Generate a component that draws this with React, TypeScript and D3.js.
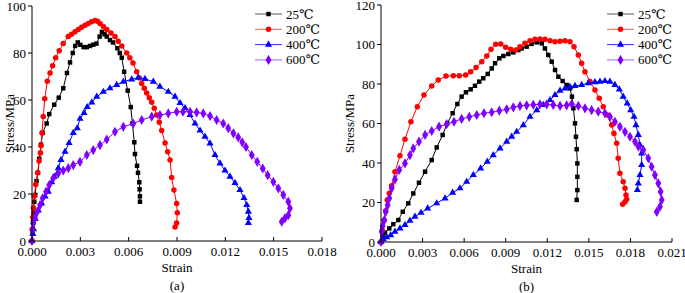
import React from "react";
import * as d3 from "d3";

type P = [number, number];

// Panel (a) data: [strain, stress MPa]
const a25: P[] = [[0,0],[0.00003,4],[0.00006,8],[0.0001,12],[0.00014,16.7],[0.0002,19.6],[0.00028,25.5],[0.00037,29],[0.00045,35],[0.00056,41],[0.00066,46],[0.00091,50],[0.00107,54],[0.00138,58],[0.00166,61],[0.00194,65],[0.00217,71.5],[0.00236,76],[0.00253,80],[0.00268,83],[0.00284,84.5],[0.003,83.5],[0.0032,82.5],[0.0034,82.5],[0.0036,83],[0.0038,83.5],[0.004,84],[0.0042,87],[0.00434,89],[0.0045,88],[0.00464,87],[0.00484,85.5],[0.00503,84.5],[0.0053,82],[0.00545,80],[0.00557,78],[0.00572,72],[0.00594,64],[0.00613,57],[0.00623,50],[0.00635,42],[0.00639,37],[0.00652,32],[0.00658,29],[0.00666,25],[0.00668,22],[0.0067,19],[0.0067,16.7]];
const a200: P[] = [[0,0],[0.00002,5],[0.00005,10],[0.00009,14],[0.00014,19],[0.00023,24],[0.00035,29],[0.00044,34],[0.00052,37.5],[0.00056,40.5],[0.00062,46],[0.0007,53],[0.00079,60.5],[0.00095,68],[0.00112,71.5],[0.00128,74.6],[0.00147,78],[0.00169,81],[0.00194,84],[0.00225,87],[0.00246,88],[0.00267,89],[0.00288,90],[0.00308,91],[0.00329,91.8],[0.00349,92.6],[0.0037,93.3],[0.00391,93.8],[0.00406,93.5],[0.00422,92.6],[0.00443,91.3],[0.00464,90],[0.0049,88.5],[0.00515,87],[0.00535,85],[0.00557,83],[0.00588,80],[0.00607,78],[0.00627,75.7],[0.0065,72],[0.00665,69.5],[0.00681,67],[0.00697,65],[0.00712,63],[0.00728,61],[0.00743,59],[0.00759,56.5],[0.00774,53.6],[0.0079,50.5],[0.00805,47],[0.00826,41.7],[0.00842,38],[0.00857,34.5],[0.00867,27],[0.00881,21.7],[0.00898,16],[0.00902,12],[0.00898,7.7],[0.00888,6]];
const a400: P[] = [[0,0],[0.00005,3],[0.0001,5],[0.00019,9.4],[0.00039,13],[0.0006,16],[0.00081,19],[0.00101,21],[0.00122,25],[0.00138,27.4],[0.00163,31],[0.0018,34.5],[0.00205,38],[0.0023,41.7],[0.00256,46],[0.00281,48],[0.00298,52],[0.00323,54.5],[0.00343,57],[0.00371,59],[0.00402,61.4],[0.00443,63.5],[0.00484,65],[0.00526,66.4],[0.00567,67.8],[0.00619,68.8],[0.0066,69.5],[0.00701,69],[0.00753,67.8],[0.00794,65.7],[0.00846,63.5],[0.00888,61.4],[0.00919,58.7],[0.0095,56.6],[0.00981,53.6],[0.01012,50],[0.01043,47],[0.01074,44.4],[0.01105,41.5],[0.01136,36.6],[0.01167,33],[0.01198,30],[0.01229,27.4],[0.0126,24.7],[0.01291,21.7],[0.01316,18.3],[0.01333,15.3],[0.01343,12.5],[0.01347,9.8],[0.01343,7.7]];
const a600: P[] = [[0,0],[0.00002,4.7],[0.00008,7.5],[0.00019,9.8],[0.00033,12.5],[0.0005,15.3],[0.00066,18.2],[0.00087,21],[0.00107,23.8],[0.00132,26.7],[0.00163,28.8],[0.00194,30],[0.00225,31],[0.00256,32.3],[0.00298,33.7],[0.0034,36.6],[0.0038,38.7],[0.00422,40.8],[0.00464,43.2],[0.00515,46.5],[0.00567,48.6],[0.00629,50],[0.00681,51.5],[0.00743,52.9],[0.00794,53.6],[0.00846,54.3],[0.00898,55],[0.00937,55],[0.00981,55],[0.01022,54.7],[0.01063,54.3],[0.01105,53.2],[0.01146,51.5],[0.01187,50],[0.01218,48],[0.0125,45.8],[0.0128,44.1],[0.01305,42],[0.01328,40],[0.01364,36.6],[0.01398,33.7],[0.01432,30.9],[0.01463,28],[0.01498,25.2],[0.01529,22.4],[0.0156,19.6],[0.01591,16.7],[0.01601,13.9],[0.01591,11],[0.0157,9.7],[0.0155,8.2]];

// Panel (b) data
const b25: P[] = [[0,0],[0.00012,2.7],[0.00029,4.7],[0.0006,6.9],[0.00089,9],[0.00125,11.1],[0.00157,15.3],[0.00197,19.6],[0.00233,24.6],[0.00274,30],[0.00318,35.6],[0.00366,41.5],[0.00402,47.9],[0.00445,54.2],[0.00478,60.1],[0.00517,65.2],[0.00551,69.9],[0.00582,73.6],[0.00613,75.8],[0.00647,77.3],[0.00678,79.1],[0.00709,81.2],[0.00738,82.9],[0.0077,85.1],[0.00799,87.9],[0.00823,90.5],[0.00854,93],[0.00883,94.2],[0.00919,95.2],[0.00955,96],[0.00991,97.2],[0.01015,98],[0.01051,98.9],[0.01087,100.3],[0.01124,101.1],[0.0116,100.6],[0.01183,98],[0.01207,94.7],[0.01232,91.3],[0.01256,87.1],[0.0128,83.7],[0.01311,81.5],[0.0134,79.5],[0.01364,77.8],[0.01378,73.6],[0.01388,67.7],[0.014,60.1],[0.01407,53.3],[0.01412,47],[0.01417,39.8],[0.01417,33],[0.01417,26.3],[0.01412,21.3]];
const b200: P[] = [[0,0],[0.00009,6],[0.00022,11],[0.00034,15.8],[0.00045,21.3],[0.0006,24.7],[0.00077,28.5],[0.00101,35.6],[0.00137,43.7],[0.00173,52],[0.00216,60.9],[0.00262,68.5],[0.0031,74.4],[0.00366,79],[0.00413,82],[0.00469,84],[0.00522,84.2],[0.00565,84.2],[0.00611,84.6],[0.00647,86.2],[0.00686,88.3],[0.00727,91.3],[0.00763,94.2],[0.00794,97.6],[0.00828,100.1],[0.00864,100.3],[0.009,98.6],[0.00936,97.6],[0.00972,97.2],[0.01003,98.9],[0.01039,100.6],[0.01075,101.9],[0.01111,102.6],[0.01147,102.8],[0.01183,102.6],[0.0122,101.9],[0.01256,101.4],[0.01292,101.6],[0.01328,101.9],[0.01364,101.4],[0.01393,98.9],[0.01424,94.7],[0.01448,90.5],[0.01472,86.2],[0.01508,81.2],[0.01544,77],[0.01575,72.8],[0.01604,68.5],[0.01633,64.3],[0.01665,59.2],[0.01681,55],[0.01701,50],[0.01712,42.4],[0.01724,34.8],[0.01748,30.5],[0.01761,27.2],[0.01768,23.8],[0.01773,21.6],[0.01761,20.4],[0.01744,19.1]];
const b400: P[] = [[0,0],[0.00017,1.4],[0.00041,2.4],[0.0007,3.5],[0.00101,5.2],[0.00137,6.9],[0.00173,8.6],[0.00209,10.8],[0.00245,12.8],[0.00289,14.8],[0.00337,17],[0.00402,19.6],[0.00462,22.1],[0.00517,25],[0.0057,27.2],[0.00618,30.5],[0.00666,33.9],[0.00719,37.3],[0.00767,40.7],[0.0081,44],[0.00859,47.4],[0.00907,50.8],[0.00943,53.3],[0.00979,55.8],[0.01027,59.2],[0.01075,63.4],[0.01124,66.8],[0.01171,69.4],[0.0122,71.9],[0.01256,74.4],[0.01292,76.6],[0.01328,77.8],[0.01364,78.6],[0.014,79],[0.01448,79.5],[0.01496,80.4],[0.01544,80.9],[0.0158,81.2],[0.01616,81.5],[0.01652,81.2],[0.01688,79.5],[0.0172,77.3],[0.01748,73.6],[0.01777,70.2],[0.01802,66.8],[0.01826,63.4],[0.0184,59.2],[0.01857,54.2],[0.01869,49.1],[0.01881,44.9],[0.01881,39],[0.01869,33.9],[0.01857,29.7],[0.0185,26.3]];
const b600: P[] = [[0,0],[0.00005,5.2],[0.00012,8.1],[0.00024,11.1],[0.00034,15.3],[0.00048,18.7],[0.0006,22.1],[0.00077,27.2],[0.00101,31.7],[0.00132,36.5],[0.00173,39.8],[0.00209,44],[0.00233,47.4],[0.00274,50.8],[0.00318,54.2],[0.00366,56.2],[0.00419,58.4],[0.00474,59.7],[0.00527,60.9],[0.00582,62.3],[0.00637,63.4],[0.00691,64.3],[0.00743,65.2],[0.00799,65.7],[0.00854,66.5],[0.00907,67.2],[0.00955,68.2],[0.01003,68.9],[0.01051,69.2],[0.01099,69.5],[0.01147,69.7],[0.01196,69.7],[0.01243,69.4],[0.01292,68.9],[0.0134,69.2],[0.01376,69.9],[0.01424,68.9],[0.01472,67.7],[0.0152,66.8],[0.01568,66],[0.01616,65.2],[0.01652,63.4],[0.01688,60.9],[0.01724,58.4],[0.01761,55.8],[0.01797,53.3],[0.01833,50.8],[0.01857,48.3],[0.01893,46.6],[0.01929,42.4],[0.01953,38.1],[0.01977,33.9],[0.02001,29.7],[0.02018,25.5],[0.02026,21.3],[0.02013,17.9],[0.0199,15.3]];

const seriesNames = ["25℃", "200℃", "400℃", "600℃"];
const colors = ["#000000", "#ff0000", "#0000ff", "#8000ff"];
const legendLineColors = ["#555555", "#ff5555", "#3333ff", "#a060ff"];
const symbols = [d3.symbolSquare, d3.symbolCircle, d3.symbolTriangle, d3.symbolDiamond];
const symbolSizes = [20, 24, 22, 30];

const xTicksA = [0, 0.003, 0.006, 0.009, 0.012, 0.015, 0.018];
const yTicksA = [0, 20, 40, 60, 80, 100];
const xTicksB = [0, 0.003, 0.006, 0.009, 0.012, 0.015, 0.018, 0.021];
const yTicksB = [0, 20, 40, 60, 80, 100, 120];

const FONT = "Liberation Serif, DejaVu Serif, serif";

interface PanelProps {
  data: P[][];
  xTicks: number[];
  yTicks: number[];
  x0: number; x1: number; y0: number; y1: number;
  label: string;
  yLabelX: number;
  legendX: number;
}

function Panel({ data, xTicks, yTicks, x0, x1, y0, y1, label, yLabelX, legendX }: PanelProps) {
  const x = d3.scaleLinear().domain([0, xTicks[xTicks.length - 1]]).range([x0, x1]);
  const y = d3.scaleLinear().domain([0, yTicks[yTicks.length - 1]]).range([y0, y1]);
  const line = d3.line<P>().x(d => x(d[0])).y(d => y(d[1]));
  const fs = 13;
  const ts = { fontFamily: FONT, fontSize: fs };
  return (
    <g>
      {data.map((s, i) => (
        <g key={i}>
          <path d={line(s) || ""} fill="none" stroke={colors[i]} strokeWidth={1} />
          {s.map((p, j) => (
            <path key={j} transform={`translate(${x(p[0])},${y(p[1])})`}
              d={d3.symbol().type(symbols[i]).size(symbolSizes[i])() || ""} fill={colors[i]} />
          ))}
        </g>
      ))}
      <line x1={x0} x2={x1} y1={y0} y2={y0} stroke="#000" strokeWidth={1} />
      <line x1={x0} x2={x0} y1={y0} y2={y1} stroke="#000" strokeWidth={1} />
      {xTicks.map((t, i) => (
        <g key={i}>
          <line x1={x(t)} x2={x(t)} y1={y0} y2={y0 - 4} stroke="#000" />
          <text x={x(t)} y={y0 + 15} textAnchor="middle" style={ts}>{d3.format(".3f")(t)}</text>
        </g>
      ))}
      {yTicks.map((t, i) => (
        <g key={i}>
          <line x1={x0} x2={x0 - 4} y1={y(t)} y2={y(t)} stroke="#000" />
          <text x={x0 - 6} y={y(t) + 4.5} textAnchor="end" style={ts}>{t}</text>
        </g>
      ))}
      <text x={(x0 + x1) / 2} y={y0 + 31} textAnchor="middle" style={ts}>Strain</text>
      <text x={(x0 + x1) / 2} y={y0 + 49} textAnchor="middle" style={ts}>{label}</text>
      <text transform={`translate(${yLabelX},${(y0 + y1) / 2}) rotate(-90)`} textAnchor="middle" style={ts}>Stress/MPa</text>
      {seriesNames.map((n, i) => {
        const ly = 14 + i * 15.3;
        return (
          <g key={i}>
            <line x1={legendX} x2={legendX + 27} y1={ly} y2={ly} stroke={legendLineColors[i]} strokeWidth={1} />
            <path transform={`translate(${legendX + 13.5},${ly})`} d={d3.symbol().type(symbols[i]).size(symbolSizes[i])() || ""} fill={colors[i]} />
            <text x={legendX + 31} y={ly + 4.5} style={ts}>{n}</text>
          </g>
        );
      })}
    </g>
  );
}

export default function App() {
  return (
    <svg width={685} height={293} style={{ position: "absolute", left: 0, top: 0, background: "#fff" }}>
      <rect width={685} height={293} fill="#fff" />
      <Panel data={[a25, a200, a400, a600]} xTicks={xTicksA} yTicks={yTicksA}
        x0={32} x1={322} y0={241} y1={6} label="(a)" yLabelX={14} legendX={255} />
      <Panel data={[b25, b200, b400, b600]} xTicks={xTicksB} yTicks={yTicksB}
        x0={381} x1={672} y0={242} y1={5} label="(b)" yLabelX={354} legendX={607} />
    </svg>
  );
}
